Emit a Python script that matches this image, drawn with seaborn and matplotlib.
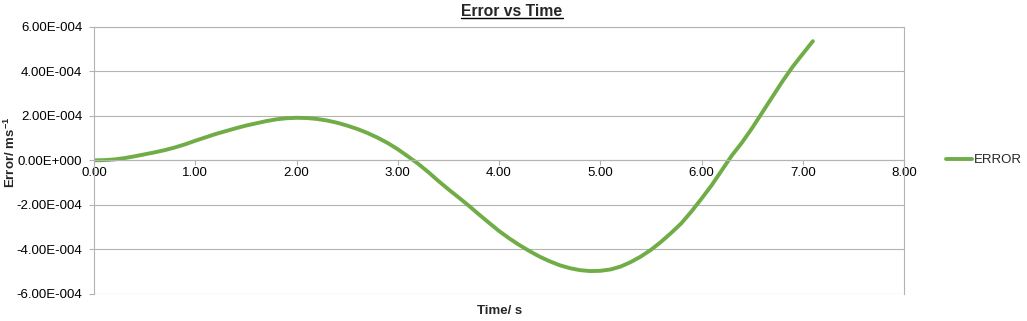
import numpy as np
import pandas as pd
import matplotlib
matplotlib.use("Agg")
import matplotlib.pyplot as plt
from matplotlib.ticker import FuncFormatter, MultipleLocator
from matplotlib.lines import Line2D
import seaborn as sns

# ---- data ----
time_s = [0.0, 0.1, 0.2, 0.3, 0.4, 0.5, 0.6, 0.7, 0.8, 0.9,
          1.0, 1.1, 1.2, 1.3, 1.4, 1.5, 1.6, 1.7, 1.8, 1.9,
          2.0, 2.1, 2.2, 2.3, 2.4, 2.5, 2.6, 2.7, 2.8, 2.9,
          3.0, 3.1, 3.2, 3.3, 3.4, 3.5, 3.6, 3.7, 3.8, 3.9,
          4.0, 4.1, 4.2, 4.3, 4.4, 4.5, 4.6, 4.7, 4.8, 4.9,
          5.0, 5.1, 5.2, 5.3, 5.4, 5.5, 5.6, 5.7, 5.8, 5.9,
          6.0, 6.1, 6.2, 6.3, 6.4, 6.5, 6.6, 6.7, 6.8, 6.9,
          7.0, 7.1]
error_e4 = [0.00, 0.01, 0.04, 0.10, 0.18, 0.27, 0.36, 0.46, 0.58, 0.72,
            0.88, 1.03, 1.18, 1.31, 1.44, 1.56, 1.66, 1.76, 1.84, 1.89,
            1.91, 1.90, 1.86, 1.79, 1.69, 1.56, 1.41, 1.23, 1.02, 0.78,
            0.50, 0.18, -0.15, -0.52, -0.92, -1.30, -1.66, -2.03, -2.42, -2.80,
            -3.17, -3.50, -3.80, -4.07, -4.32, -4.53, -4.71, -4.84, -4.93, -4.97,
            -4.96, -4.90, -4.77, -4.57, -4.32, -4.02, -3.66, -3.26, -2.83, -2.30,
            -1.72, -1.12, -0.45, 0.22, 0.80, 1.45, 2.15, 2.85, 3.55, 4.20,
            4.78, 5.35]
series_name = "ERROR"
title_text = "Error vs Time"
x_label = "Time/ s"
y_label = r"Error/ ms$^{\mathregular{-1}}$"

df = pd.DataFrame({"Time": time_s, "Error": np.array(error_e4) * 1e-4})

sns.set_theme(style="white")
plt.rcParams["font.family"] = ["Liberation Sans", "DejaVu Sans"]
plt.rcParams["mathtext.fontset"] = "custom"
plt.rcParams["mathtext.rm"] = "Liberation Sans"
plt.rcParams["mathtext.bf"] = "Liberation Sans:bold"

W, H = 1027, 321
fig = plt.figure(figsize=(W / 100, H / 100), dpi=100)
fig.patch.set_facecolor("white")
L, R, T, B = 94, 904, 26.7, 294
ax = fig.add_axes([L / W, 1 - B / H, (R - L) / W, (B - T) / H])

green = "#70AD47"
grid_c = "#B3B3B3"

sns.lineplot(data=df, x="Time", y="Error", ax=ax, color=green, linewidth=2.8,
             label=series_name, estimator=None, sort=False,
             solid_capstyle="round", solid_joinstyle="round")

ax.set_xlim(0, 8)
ax.set_ylim(-6e-4, 6e-4)
ax.xaxis.set_major_locator(MultipleLocator(1))
ax.yaxis.set_major_locator(MultipleLocator(2e-4))
ax.xaxis.set_major_formatter(FuncFormatter(lambda v, p: f"{v:.2f}"))


def sci_fmt(v, p):
    if abs(v) < 1e-12:
        return "0.00E+000"
    e = int(np.floor(np.log10(abs(v))))
    m = v / 10 ** e
    sign = "-" if e < 0 else "+"
    return f"{m:.2f}E{sign}{abs(e):03d}"


ax.yaxis.set_major_formatter(FuncFormatter(sci_fmt))

ax.grid(axis="y", color=grid_c, linewidth=0.8)
ax.grid(axis="x", visible=False)
ax.set_axisbelow(True)

for s in ["left", "right", "top"]:
    ax.spines[s].set_color(grid_c)
    ax.spines[s].set_linewidth(0.8)
ax.spines["bottom"].set_position(("data", 0))
ax.spines["bottom"].set_color(grid_c)
ax.spines["bottom"].set_linewidth(0.8)

ax.tick_params(axis="x", direction="out", length=3.5, width=0.8, color=grid_c,
               labelsize=9.5, labelcolor="black", pad=1.5, bottom=True)
ax.tick_params(axis="y", direction="out", length=3.5, width=0.8, color=grid_c,
               labelsize=9.5, labelcolor="black", pad=5, left=True)

ax.set_xlabel("")
ax.set_ylabel("")
fig.text(499.5 / W, 1 - 311 / H, x_label, ha="center", va="center",
         fontsize=9.5, fontweight="bold")
fig.text(10 / W, 1 - 152 / H, y_label, ha="center", va="center",
         rotation=90, fontsize=9.5, fontweight="bold")

ttl = fig.text(512 / W, 1 - 12 / H, title_text, ha="center", va="center",
               fontsize=11.3, fontweight="bold")

leg = ax.legend(loc="center left", bbox_to_anchor=(946 / W, 1 - 160 / H),
                bbox_transform=fig.transFigure, frameon=False, fontsize=9.5,
                handlelength=2.0, handletextpad=0.15, borderpad=0,
                borderaxespad=0)

fig.canvas.draw()
bb = ttl.get_window_extent()
uy = bb.y0 + 1.5
fig.add_artist(Line2D([bb.x0 / W, bb.x1 / W], [uy / H, uy / H],
                      transform=fig.transFigure, color="black", linewidth=1.0))

fig.savefig("out.png", dpi=100, facecolor="white")
